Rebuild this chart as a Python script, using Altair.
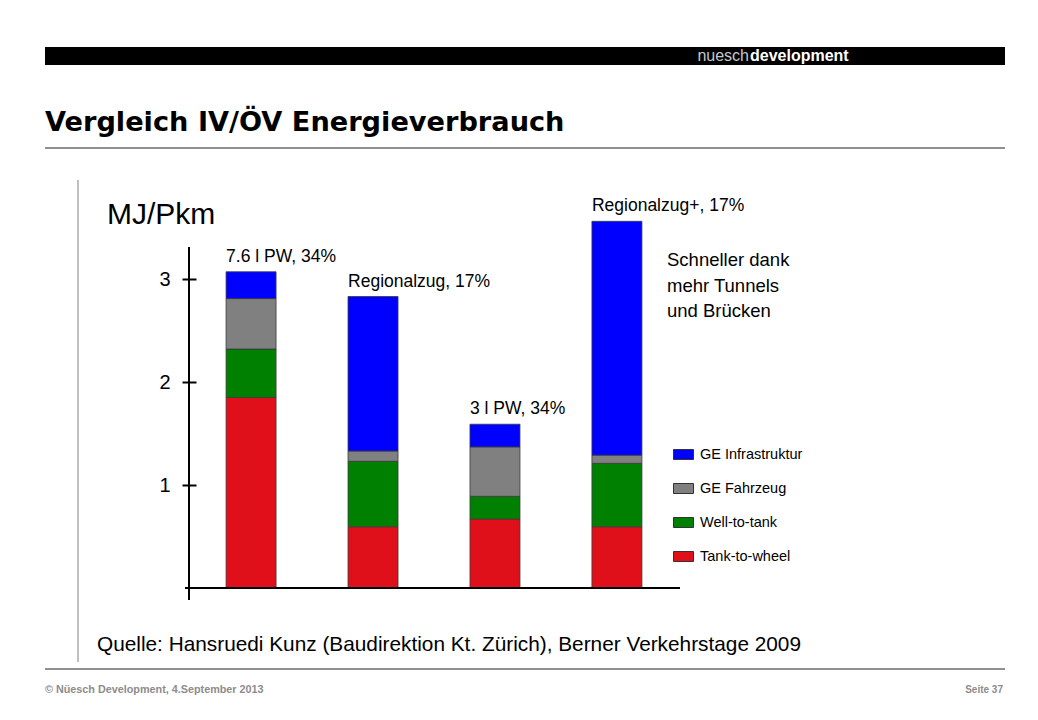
import altair as alt
import pandas as pd

# ---- data ----
categories = ["7.6 l PW, 34%", "Regionalzug, 17%", "3 l PW, 34%", "Regionalzug+, 17%"]
components = ["GE Infrastruktur", "GE Fahrzeug", "Well-to-tank", "Tank-to-wheel"]
tank_to_wheel = [1.85, 0.595, 0.67, 0.595]
well_to_tank = [0.47, 0.635, 0.22, 0.615]
ge_fahrzeug = [0.49, 0.10, 0.48, 0.08]
ge_infrastruktur = [0.26, 1.50, 0.22, 2.27]
y_ticks = [1, 2, 3]
colors = ["#0000FF", "#808080", "#008000", "#E0101A"]

series = {
    "Tank-to-wheel": tank_to_wheel,
    "Well-to-tank": well_to_tank,
    "GE Fahrzeug": ge_fahrzeug,
    "GE Infrastruktur": ge_infrastruktur,
}
stack_order = {"Tank-to-wheel": 0, "Well-to-tank": 1, "GE Fahrzeug": 2, "GE Infrastruktur": 3}
rows = []
for comp, vals in series.items():
    for cat, v in zip(categories, vals):
        rows.append({"cat": cat, "component": comp, "value": v, "order": stack_order[comp]})
df = pd.DataFrame(rows)

# ---- layout (page pixels) ----
OX, OY = 189, 247          # plot origin on the page
W, H = 490, 341            # plot area
PX_PER_UNIT = 103
SVG_W, SVG_H = 1022, 700
FONT = "Liberation Sans"


def px(x):
    return x - OX


def py(y):
    return y - OY


one = pd.DataFrame({"a": [0]})

x_enc = alt.X("cat:N", sort=categories,
              scale=alt.Scale(paddingInner=0.59, paddingOuter=0.304), axis=None)
y_scale = alt.Scale(domain=[0, H / PX_PER_UNIT], nice=False, zero=True)

bars = alt.Chart(df).mark_bar(stroke="#3a3a3a", strokeWidth=0.8, opacity=1).encode(
    x=x_enc,
    y=alt.Y("value:Q", stack="zero", scale=y_scale,
            axis=alt.Axis(values=y_ticks, format="d", grid=False, domain=False,
                          tickSize=14, tickWidth=2, tickColor="black", offset=-7,
                          labelFontSize=20, labelFont=FONT, labelColor="black",
                          labelPadding=12, title=None)),
    color=alt.Color("component:N",
                    scale=alt.Scale(domain=components, range=colors),
                    legend=alt.Legend(orient="none", legendX=484, legendY=197, title=None,
                                      symbolType="M-1,-0.5H1V0.5H-1Z", symbolSize=400,
                                      symbolStrokeColor="#333333", symbolStrokeWidth=1,
                                      symbolOpacity=1, labelFont=FONT, labelFontSize=14.5,
                                      labelColor="black", labelOffset=6, rowPadding=16,
                                      padding=0)),
    order=alt.Order("order:Q"),
)

labels = alt.Chart(df).transform_aggregate(
    total="sum(value)", groupby=["cat"]
).mark_text(align="left", baseline="middle", dy=-15, font=FONT, fontSize=17.5, color="black").encode(
    x=alt.X("cat:N", sort=categories, bandPosition=0,
            scale=alt.Scale(paddingInner=0.59, paddingOuter=0.304), axis=None),
    y=alt.Y("total:Q", scale=y_scale),
    text="cat:N",
)


def txt(t, x, y, size, font=FONT, weight="normal", color="black", align="left",
        baseline="middle", **kw):
    return alt.Chart(one).mark_text(text=t, align=align, baseline=baseline, font=font,
                                    fontSize=size, fontWeight=weight, color=color, **kw).encode(
        x=alt.value(px(x)), y=alt.value(py(y)))


def rect(x0, x1, y0, y1, color="black"):
    return alt.Chart(one).mark_rect(color=color, opacity=1).encode(
        x=alt.value(px(x0)), x2=alt.value(px(x1)), y=alt.value(py(y0)), y2=alt.value(py(y1)))


def rule(x0, x1, y0, y1, color="black", width=1.0):
    return alt.Chart(one).mark_rule(color=color, strokeWidth=width).encode(
        x=alt.value(px(x0)), x2=alt.value(px(x1)), y=alt.value(py(y0)), y2=alt.value(py(y1)))


decor = [
    rect(45, 1005, 47, 65),                     # black header bar
    txt("nuesch", 749, 56, 16, font="Liberation Sans Narrow, Liberation Sans",
        color="#c8c8c8", align="right"),
    txt("development", 750, 56, 16, font="Liberation Sans Narrow, Liberation Sans",
        weight="bold", color="white"),
    txt("Vergleich IV/ÖV Energieverbrauch", 45, 131, 27.2, font="DejaVu Sans",
        weight="bold", baseline="alphabetic"),
    rule(45, 1005, 148, 148, color="#222222", width=1.2),
    rule(78, 78, 180, 662, color="#808080", width=1),
    txt("MJ/Pkm", 107, 215, 30),
    rule(189, 189, 247, 600, width=2),          # y axis line
    rule(185, 680, 588, 588, width=2),          # baseline
    txt("Schneller dank\nmehr Tunnels\nund Brücken", 667, 266, 18.5,
        baseline="alphabetic", lineBreak="\n", lineHeight=25.5),
    txt("Quelle: Hansruedi Kunz (Baudirektion Kt. Zürich), Berner Verkehrstage 2009",
        97, 645, 20.8),
    rule(45, 1005, 669, 669, color="#222222", width=1.2),
    txt("© Nüesch Development, 4.September 2013", 45, 690, 10.8, weight="bold", color="#8c8c8c"),
    txt("Seite 37", 1003, 690, 10, weight="bold", color="#8c8c8c", align="right"),
]

chart = alt.layer(bars, labels, *decor).properties(
    width=W, height=H,
    autosize=alt.AutoSizeParams(type="none"),
    padding={"left": OX - 8, "top": OY - 8, "right": SVG_W - (OX - 8) - W,
             "bottom": SVG_H - (OY - 8) - H},
    background="white",
).configure_view(stroke=None)

chart.save("out.html", embed_options={"renderer": "svg", "actions": False})
